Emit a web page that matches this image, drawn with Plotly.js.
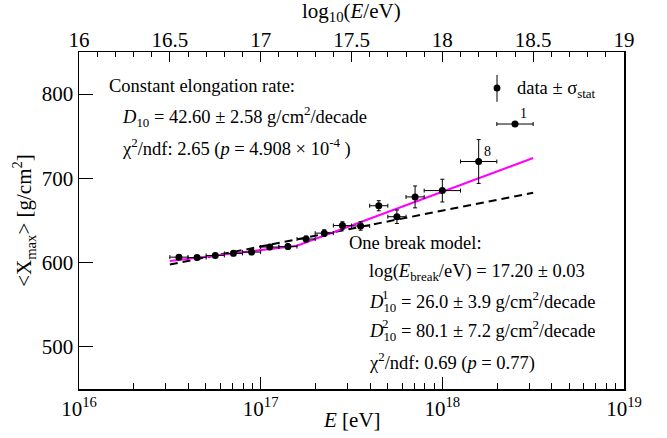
<!DOCTYPE html>
<html>
<head>
<meta charset="utf-8">
<script src="https://cdn.plot.ly/plotly-3.0.1.min.js"></script>
<style>
  html, body { margin: 0; padding: 0; background: #fff; }
  #chart { width: 667px; height: 438px; }
</style>
</head>
<body>
<div id="chart"></div>
<script>
// Mean depth of shower maximum per energy bin
const binLog10E   = [16.55, 16.65, 16.75, 16.85, 16.95, 17.05, 17.15, 17.25, 17.35, 17.45, 17.55, 17.65, 17.75, 17.85, 18.0, 18.2, 18.4];
const binHalfWidth = [0.05, 0.05, 0.05, 0.05, 0.05, 0.05, 0.05, 0.05, 0.05, 0.05, 0.05, 0.05, 0.05, 0.05, 0.1, 0.1, 0.1];
const meanXmax    = [606.5, 606, 608.5, 611, 612.5, 618.5, 619, 628, 635, 644, 643.5, 667.5, 654.5, 678, 685.5, 720, 764.5];
const xmaxStatErr = [2.5, 2.5, 2.5, 2.5, 3, 3, 3, 3.5, 4, 4.5, 5, 6, 8, 13, 13.5, 26, 0];

// Event counts written next to the sparse high-energy bins
const countBins   = [18.2, 18.4];
const countXmax   = [720, 764.5];
const countLabels = ['8', '1'];

// Fitted models (end points / break point)
const cerLog10E    = [16.5, 18.5];
const cerXmax      = [597.8, 683.0];
const brokenLog10E = [16.5, 17.2, 18.5];
const brokenXmax   = [601.9, 620.1, 724.2];

// Axis ticks
const bottomTickVals = [1e16, 1e17, 1e18, 1e19];
const bottomTickText = ['10<sup>16</sup>', '10<sup>17</sup>', '10<sup>18</sup>', '10<sup>19</sup>'];
const topTickVals = [16, 16.5, 17, 17.5, 18, 18.5, 19];
const topTickText = ['16', '16.5', '17', '17.5', '18', '18.5', '19'];

const FONT = '"Liberation Serif", "Times New Roman", serif';
const TXT = 18.5;
const toE = a => a.map(v => Math.pow(10, v));

const energy = toE(binLog10E);
const errPlus  = binLog10E.map((v, i) => Math.pow(10, v + binHalfWidth[i]) - Math.pow(10, v));
const errMinus = binLog10E.map((v, i) => Math.pow(10, v) - Math.pow(10, v - binHalfWidth[i]));

const traces = [
  {
    x: toE(cerLog10E), y: cerXmax, mode: 'lines', type: 'scatter',
    line: { color: '#000', width: 2, dash: '8px,5px' }, hoverinfo: 'skip'
  },
  {
    x: toE(brokenLog10E), y: brokenXmax, mode: 'lines', type: 'scatter',
    line: { color: '#ff00ff', width: 2 }, hoverinfo: 'skip'
  },
  {
    x: energy, y: meanXmax, mode: 'markers', type: 'scatter',
    marker: { color: '#000', size: 7 },
    error_x: { type: 'data', symmetric: false, array: errPlus, arrayminus: errMinus,
               color: '#000', thickness: 1, width: 2 },
    error_y: { type: 'data', array: xmaxStatErr, color: '#000', thickness: 1, width: 2 }
  },
  {
    // carries the log10(E/eV) scale along the top edge
    x: topTickVals, y: topTickVals.map(() => null), xaxis: 'x2', mode: 'markers',
    type: 'scatter', hoverinfo: 'skip', showlegend: false
  }
];

const ann = (x, y, text, opts) => Object.assign({
  xref: 'paper', yref: 'paper', x, y, text, showarrow: false,
  xanchor: 'left', yanchor: 'middle', font: { family: FONT, size: TXT, color: '#000' }
}, opts || {});
const small = { xanchor: 'center', font: { family: FONT, size: 13, color: '#000' } };

const annotations = [
  ann(0.051, 0.898, 'Constant elongation rate:'),
  ann(0.075, 0.810, '<i>D</i><sub>10</sub> = 42.60 ± 2.58 g/cm<sup>2</sup>/decade'),
  ann(0.075, 0.718, 'χ<sup>2</sup>/ndf: 2.65 (<i>p</i> = 4.908 × 10<sup>-4</sup> )'),
  ann(0.492, 0.434, 'One break model:'),
  ann(0.528, 0.345, 'log(<i>E</i><sub>break</sub>/eV) = 17.20 ± 0.03'),
  ann(0.528, 0.259, '<i>D</i><sub>10</sub> = 26.0 ± 3.9 g/cm<sup>2</sup>/decade'),
  ann(0.562, 0.279, '1', small),
  ann(0.528, 0.173, '<i>D</i><sub>10</sub> = 80.1 ± 7.2 g/cm<sup>2</sup>/decade'),
  ann(0.562, 0.193, '2', small),
  ann(0.528, 0.083, 'χ<sup>2</sup>/ndf: 0.69 (<i>p</i> = 0.77)'),
  ann(0.800, 0.890, 'data ± σ<sub>stat</sub>'),
  ann(0.5, 1.0, 'log<sub>10</sub>(<i>E</i>/eV)', { xanchor: 'center', yanchor: 'middle', yshift: 40,
      font: { family: FONT, size: 21, color: '#000' } }),
  ann(0.5, 0.0, '<i>E</i> [eV]', { xanchor: 'center', yanchor: 'middle', yshift: -31,
      font: { family: FONT, size: 21, color: '#000' } })
];

countBins.forEach((b, i) => {
  annotations.push({
    xref: 'x', yref: 'y', x: b, y: countXmax[i], text: countLabels[i], showarrow: false,
    xanchor: 'left', yanchor: 'bottom', xshift: 3, yshift: 1,
    font: { family: FONT, size: 14, color: '#000' }
  });
});

const layout = {
  width: 667, height: 438,
  margin: { l: 79, r: 43, t: 52, b: 49 },
  paper_bgcolor: '#fff', plot_bgcolor: '#fff',
  showlegend: false,
  font: { family: FONT, color: '#000', size: 21 },
  xaxis: {
    type: 'log', range: [16, 19], showgrid: false, zeroline: false,
    showline: true, linecolor: '#000', linewidth: 1.5, mirror: false,
    ticks: 'inside', ticklen: 12, tickwidth: 1, tickcolor: '#000',
    tickvals: bottomTickVals, ticktext: bottomTickText,
    tickfont: { family: FONT, size: 21 },
    minor: { ticks: 'inside', ticklen: 6, tickcolor: '#000', dtick: 'D1', showgrid: false }
  },
  xaxis2: {
    overlaying: 'x', side: 'top', anchor: 'y', range: [16, 19], showgrid: false, zeroline: false,
    showline: true, linecolor: '#000', linewidth: 1.5,
    ticks: 'inside', ticklen: 10, tickwidth: 1, tickcolor: '#000',
    tickvals: topTickVals, ticktext: topTickText, tickfont: { family: FONT, size: 21 },
    ticklabelstandoff: -5,
    minor: { ticks: 'inside', ticklen: 5, tickcolor: '#000', dtick: 0.1, showgrid: false }
  },
  yaxis: {
    range: [450, 850], showgrid: false, zeroline: false,
    showline: true, linecolor: '#000', linewidth: 1.5, mirror: true,
    ticks: 'inside', ticklen: 14, tickwidth: 1, tickcolor: '#000',
    dtick: 100, tickfont: { family: FONT, size: 21 },
    title: { text: '<X<sub>max</sub>> [g/cm<sup>2</sup>]', font: { family: FONT, size: 21 }, standoff: 4 }
  },
  annotations,
  shapes: [
    { type: 'line', xref: 'paper', yref: 'paper', x0: 0.767, x1: 0.767, y0: 0.852, y1: 0.932,
      line: { color: '#000', width: 1 } },
    { type: 'circle', xref: 'paper', yref: 'paper', x0: 0.7607, x1: 0.7733, y0: 0.8825, y1: 0.9035,
      fillcolor: '#000', line: { color: '#000', width: 0 } }
  ]
};

Plotly.newPlot('chart', traces, layout, { displayModeBar: false, staticPlot: true });
</script>
</body>
</html>
